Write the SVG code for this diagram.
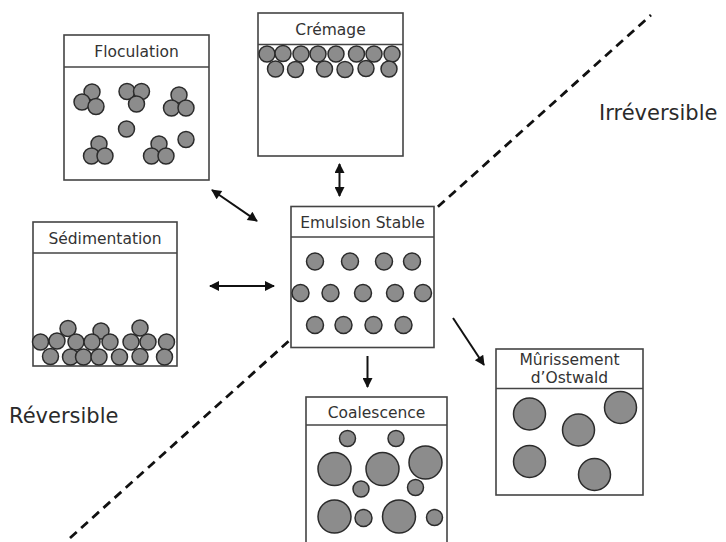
<svg xmlns="http://www.w3.org/2000/svg" width="726" height="542" viewBox="0 0 726 542">
<style>
.box{fill:#fff;stroke:#444;stroke-width:1.6}
.hd{stroke:#444;stroke-width:1.6}
.t{font-family:"DejaVu Sans",Verdana,sans-serif;font-size:15.5px;fill:#333;text-anchor:middle}
.lbl{font-family:"DejaVu Sans",Verdana,sans-serif;font-size:21px;fill:#2a2a2a}
circle{fill:#8c8c8c;stroke:#2b2b2b;stroke-width:1.5}
.c line{stroke:#111;stroke-width:2}
</style>
<defs>
<marker id="ah" viewBox="0 0 10 10" refX="9" refY="5" markerWidth="12" markerHeight="10" markerUnits="userSpaceOnUse" orient="auto-start-reverse">
<path d="M0,0 L10,5 L0,10 z" fill="#111"/>
</marker>
</defs>
<line x1="70" y1="538" x2="651" y2="15" stroke="#111" stroke-width="2.8" stroke-dasharray="9,6"/>
<text class="lbl" x="599" y="120">Irréversible</text>
<text class="lbl" x="9" y="423">Réversible</text>

<g id="floculation">
<rect class="box" x="64" y="35" width="145" height="145"/>
<line class="hd" x1="64" y1="67" x2="209" y2="67"/>
<text class="t" x="136.5" y="57">Floculation</text>
<circle cx="92" cy="92" r="8"/><circle cx="82" cy="102" r="8"/><circle cx="96" cy="106.5" r="8"/>
<circle cx="127" cy="91.5" r="8"/><circle cx="141.5" cy="91.5" r="8"/><circle cx="136.5" cy="104" r="8"/>
<circle cx="179" cy="95" r="8"/><circle cx="171.5" cy="108" r="8"/><circle cx="186" cy="108" r="8"/>
<circle cx="126.5" cy="129" r="8"/>
<circle cx="186" cy="139.5" r="8"/>
<circle cx="99" cy="144" r="8"/><circle cx="91.5" cy="156" r="8"/><circle cx="105" cy="156" r="8"/>
<circle cx="159" cy="144" r="8"/><circle cx="151.5" cy="156" r="8"/><circle cx="166" cy="156" r="8"/>
</g>

<g id="cremage">
<rect class="box" x="258" y="13" width="145" height="143"/>
<line class="hd" x1="258" y1="44.5" x2="403" y2="44.5"/>
<text class="t" x="330.5" y="35">Crémage</text>
<circle cx="267" cy="54" r="8"/><circle cx="283" cy="53.5" r="8"/><circle cx="301" cy="54" r="8"/><circle cx="318" cy="54" r="8"/><circle cx="336" cy="54" r="8"/><circle cx="356.5" cy="54" r="8"/><circle cx="374" cy="54" r="8"/><circle cx="392" cy="54" r="8"/>
<circle cx="275.5" cy="69" r="8"/><circle cx="295.5" cy="69.5" r="8"/><circle cx="324.5" cy="69" r="8"/><circle cx="345" cy="69.5" r="8"/><circle cx="366" cy="68.5" r="8"/><circle cx="389" cy="69" r="8"/>
</g>

<g id="sedimentation">
<rect class="box" x="33" y="222" width="144" height="144"/>
<line class="hd" x1="33" y1="253" x2="177" y2="253"/>
<text class="t" x="105" y="244">Sédimentation</text>
<circle cx="68" cy="328.5" r="8"/><circle cx="101" cy="331" r="8"/><circle cx="140" cy="328" r="8"/>
<circle cx="40.5" cy="342" r="8"/><circle cx="57" cy="341" r="8"/><circle cx="76" cy="342" r="8"/><circle cx="92" cy="342" r="8"/><circle cx="110" cy="342" r="8"/><circle cx="131" cy="342" r="8"/><circle cx="148" cy="342" r="8"/><circle cx="166.5" cy="342" r="8"/>
<circle cx="50.5" cy="356.5" r="8"/><circle cx="70.5" cy="357" r="8"/><circle cx="83.5" cy="357" r="8"/><circle cx="99" cy="357" r="8"/><circle cx="119.5" cy="357" r="8"/><circle cx="140" cy="356.5" r="8"/><circle cx="164.5" cy="357" r="8"/>
</g>

<g id="emulsion">
<rect class="box" x="291" y="206.5" width="143" height="141"/>
<line class="hd" x1="291" y1="237" x2="434" y2="237"/>
<text class="t" x="362.5" y="228">Emulsion Stable</text>
<circle cx="315" cy="261.5" r="8.5"/><circle cx="350" cy="261.5" r="8.5"/><circle cx="384" cy="261.5" r="8.5"/><circle cx="412" cy="261.5" r="8.5"/>
<circle cx="300.5" cy="293" r="8.5"/><circle cx="330.5" cy="293" r="8.5"/><circle cx="363" cy="293" r="8.5"/><circle cx="395" cy="293" r="8.5"/><circle cx="423" cy="293" r="8.5"/>
<circle cx="315" cy="325" r="8.5"/><circle cx="343.5" cy="325" r="8.5"/><circle cx="373.5" cy="325" r="8.5"/><circle cx="403.5" cy="325" r="8.5"/>
</g>

<g id="coalescence">
<rect class="box" x="306" y="397" width="141" height="146"/>
<line class="hd" x1="306" y1="425" x2="447" y2="425"/>
<text class="t" x="376.5" y="418">Coalescence</text>
<circle cx="347.5" cy="438.5" r="8"/><circle cx="396" cy="438.5" r="8"/>
<circle cx="334.5" cy="469" r="16.5"/><circle cx="382.5" cy="469" r="16.5"/><circle cx="425.5" cy="462.5" r="16.5"/>
<circle cx="361" cy="489" r="8"/><circle cx="415.5" cy="487.5" r="8"/>
<circle cx="334.5" cy="516.5" r="16.5"/><circle cx="399" cy="516.5" r="16.5"/>
<circle cx="363.5" cy="518" r="8.5"/><circle cx="434.5" cy="517.5" r="8"/>
</g>

<g id="murissement">
<rect class="box" x="496" y="349" width="147" height="146"/>
<line class="hd" x1="496" y1="388.5" x2="643" y2="388.5"/>
<text class="t" x="569.5" y="365">Mûrissement</text>
<text class="t" x="569.5" y="383">d’Ostwald</text>
<circle cx="529.5" cy="414" r="16"/><circle cx="578.5" cy="430" r="16"/><circle cx="620.5" cy="407.5" r="16"/>
<circle cx="529.5" cy="461.5" r="16"/><circle cx="594.5" cy="474.5" r="16"/>
</g>

<g id="connectors" class="c">
<line x1="212" y1="190" x2="257" y2="221" marker-start="url(#ah)" marker-end="url(#ah)"/>
<line x1="339.5" y1="164" x2="339.5" y2="196" marker-start="url(#ah)" marker-end="url(#ah)"/>
<line x1="210" y1="286" x2="274" y2="286" marker-start="url(#ah)" marker-end="url(#ah)"/>
<line x1="367.5" y1="356" x2="367.5" y2="387" marker-end="url(#ah)"/>
<line x1="453" y1="318" x2="484" y2="365" marker-end="url(#ah)"/>
</g>
</svg>
